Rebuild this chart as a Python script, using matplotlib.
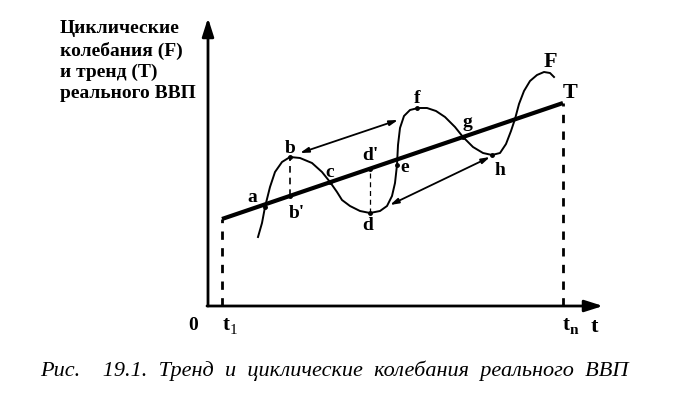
import numpy as np
import matplotlib
matplotlib.use("Agg")
import matplotlib.pyplot as plt

# dannye, schitannye s risunka (t - vremya, y - realnyj VVP)
curve_t = [5.0, 5.4, 5.7, 6.2, 6.7, 7.4, 8.2, 9.2, 10.4, 11.4, 12.2, 12.9, 13.4, 14.2,
           15.2, 16.2, 17.2, 17.9, 18.4, 18.7, 18.9, 19.0, 19.2, 19.6, 20.2, 21.0,
           21.9, 22.8, 23.7, 24.7, 25.5, 26.5, 27.5, 28.4, 29.2, 29.8, 30.3, 30.7,
           31.1, 31.6, 32.2, 32.9, 33.6, 34.2, 34.6]
curve_y = [6.9, 8.3, 9.9, 11.9, 13.4, 14.4, 14.9, 14.8, 14.3, 13.4, 12.4, 11.4, 10.6, 10.0,
           9.5, 9.3, 9.5, 10.0, 11.0, 12.3, 14.1, 16.1, 17.8, 19.0, 19.6, 19.8,
           19.8, 19.5, 18.9, 17.9, 16.9, 15.9, 15.3, 15.1, 15.3, 16.2, 17.5, 18.7,
           20.2, 21.5, 22.5, 23.1, 23.4, 23.3, 22.9]

trend_t = [1.4, 35.5]
trend_y = [8.7, 20.3]

# vertikalnye otrezki b-b' i d-d'
b_t, b_y, b1_y = 8.2, 14.9, 11.0
d_t, d_y, d1_y = 16.2, 9.3, 13.7

# dvojnye strelki b-f i d-h
arrow_bf = [(9.2, 15.3), (19.0, 18.6)]
arrow_dh = [(18.2, 10.1), (28.2, 14.9)]

# tochki na krivoj
dot_t = [5.7, 8.2, 8.2, 12.2, 16.2, 16.2, 18.9, 20.9, 25.5, 28.4]
dot_y = [9.9, 14.9, 11.0, 12.4, 9.3, 13.7, 14.1, 19.8, 16.9, 15.1]

t_max = 39.5
y_max = 28.8

fig = plt.figure(figsize=(6.89, 3.99), dpi=100)
ax = fig.add_axes([0, 0, 1, 1])
ax.set_xlim(-20.8, 48.1)
ax.set_ylim(-9.3, 30.6)
ax.axis("off")

bold = dict(family="Liberation Serif", weight="bold", color="black")

# osi
ax.annotate("", xy=(0, y_max), xytext=(0, 0),
            arrowprops=dict(arrowstyle="-|>,head_width=0.35,head_length=1.1", lw=2, color="black",
                            shrinkA=0, shrinkB=0))
ax.annotate("", xy=(t_max, 0), xytext=(-0.1, 0),
            arrowprops=dict(arrowstyle="-|>,head_width=0.35,head_length=1.1", lw=2, color="black",
                            shrinkA=0, shrinkB=0))

# trend
ax.plot(trend_t, trend_y, color="black", lw=3, solid_capstyle="butt")
ax.plot([trend_t[0], trend_t[0]], [0, trend_y[0]], color="black", lw=2, ls=(0, (3, 3)))
ax.plot([trend_t[1], trend_t[1]], [0, trend_y[1]], color="black", lw=2, ls=(0, (3, 3)))

# ciklicheskie kolebaniya
ax.plot(curve_t, curve_y, color="black", lw=1.4)

ax.plot([b_t, b_t], [b1_y, b_y], color="black", lw=1.2, ls=(0, (4, 3)))
ax.plot([d_t, d_t], [d_y, d1_y], color="black", lw=0.9, ls=(0, (4, 3)))

for a in [arrow_bf, arrow_dh]:
    ax.annotate("", xy=a[0], xytext=a[1],
                arrowprops=dict(arrowstyle="<|-|>,head_width=0.15,head_length=0.5", lw=1.3,
                                color="black", shrinkA=0, shrinkB=0))

ax.plot(dot_t, dot_y, "o", color="black", ms=2.5)

# podpisi tochek
ax.text(4.4, 10.9, "a", fontsize=14, ha="center", va="center", **bold)
ax.text(8.2, 15.8, "b", fontsize=14, ha="center", va="center", **bold)
ax.text(8.9, 9.3, "b'", fontsize=14, ha="center", va="center", **bold)
ax.text(12.2, 13.4, "c", fontsize=14, ha="center", va="center", **bold)
ax.text(16.2, 15.1, "d'", fontsize=14, ha="center", va="center", **bold)
ax.text(19.7, 13.9, "e", fontsize=14, ha="center", va="center", **bold)
ax.text(16.0, 8.1, "d", fontsize=14, ha="center", va="center", **bold)
ax.text(20.9, 20.8, "f", fontsize=14, ha="center", va="center", **bold)
ax.text(25.9, 18.4, "g", fontsize=14, ha="center", va="center", **bold)
ax.text(29.2, 13.6, "h", fontsize=14, ha="center", va="center", **bold)
ax.text(34.2, 24.4, "F", fontsize=16, ha="center", va="center", **bold)
ax.text(36.2, 21.3, "T", fontsize=16, ha="center", va="center", **bold)

# podpisi osej
ax.text(-1.5, -1.9, "0", fontsize=14, ha="center", va="center", **bold)
ax.text(1.8, -1.9, "t", fontsize=15, ha="center", va="center", **bold)
ax.text(2.5, -2.4, "1", fontsize=11, ha="center", va="center", family="Liberation Serif")
ax.text(35.8, -1.9, "t", fontsize=15, ha="center", va="center", **bold)
ax.text(36.6, -2.4, "n", fontsize=11, ha="center", va="center", **bold)
ax.text(38.6, -2.1, "t", fontsize=16, ha="center", va="center", **bold)

ax.text(-14.8, 28.6, "Циклические\nколебания (F)\nи тренд (T)\nреального ВВП",
        fontsize=14, ha="left", va="top", linespacing=1.32, **bold)

ax.text(12.6, -6.5, "Рис.    19.1.  Тренд  и  циклические  колебания  реального  ВВП",
        fontsize=16, ha="center", va="center", family="Liberation Serif", style="italic")

fig.savefig("out.png", dpi=100)
